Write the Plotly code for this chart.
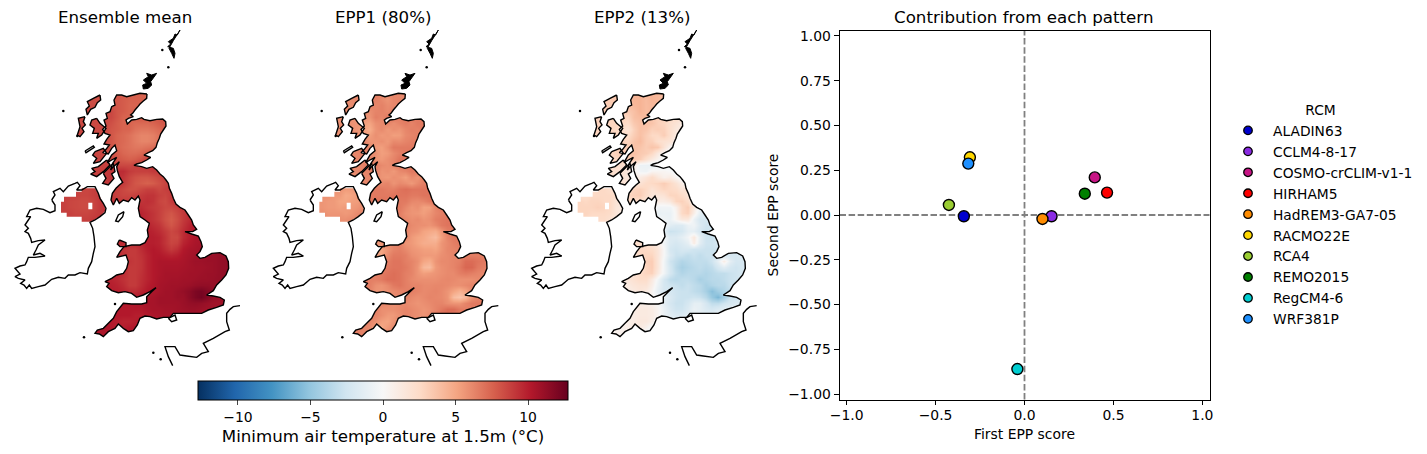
import plotly.graph_objects as go

_ = None
W, H = 1427, 454

# ---------------------------------------------------------------- scatter data
RCM = ["ALADIN63", "CCLM4-8-17", "COSMO-crCLIM-v1-1", "HIRHAM5", "HadREM3-GA7-05",
       "RACMO22E", "RCA4", "REMO2015", "RegCM4-6", "WRF381P"]
FIRST_EPP = [-0.341, 0.152, 0.395, 0.464, 0.101, -0.307, -0.425, 0.339, -0.040, -0.316]
SECOND_EPP = [-0.007, -0.007, 0.210, 0.125, -0.022, 0.322, 0.056, 0.119, -0.860, 0.287]
RCM_COLORS = ["#0000cd", "#8a2be2", "#c71585", "#ff0000", "#ff8c00",
              "#ffd700", "#9acd32", "#008000", "#00ced1", "#1e90ff"]
MAP_TITLES = ["Ensemble mean", "EPP1 (80%)", "EPP2 (13%)"]
CBAR_TICKS = [-10, -5, 0, 5, 10]

# ---------------------------------------------------------------- gridded fields (deg C)
MEAN = [
 [_]*9+[8,7.8,7.8,7.8,7.5,7.5],
 [_]*9+[8,7.8,7.6,7.6,7.6,7.5],
 [_]*8+[8,8,7.8,7.5,7.5,7.5],
 [_]*8+[8.5,8,7.8,7.5,7.8],
 [_]*7+[8.5,8.5,8,7.5,7.5,7.8,8,8,8,8,8.5,8.5],
 [_]*7+[8.5,8.2,7.8,7.5,7.5,7.3,7.3,7.3,7.5,7.8,8,8.5],
 [_]*7+[8.5,8,7.8,7.5,7.5,7,6.8,6.8,7,7.3,7.8,8.5],
 [_]*7+[8.5,8,7.5,7.3,7,6.6,6.3,6.3,6.5,7,7.8],
 [_]*7+[8.5,8,7.5,7.3,7,6.6,6.3,6.3,6.5,7,7.8],
 [_]*7+[8.5,8,7.5,7.2,7,6.8,6.8,7,7.2,7.8],
 [_]*7+[8.5,8.2,7.8,7.4,7.2,7.2,7.4,7.8,8.2],
 [_]*8+[8.5,8,7.8,7.6,7.8,8.2,8.8],
 [_]*8+[8.8,8.5,8.5,8.5,8.8,8.8,9,9.2],
 [_]*9+[9.5,9.5,9,8.8,8.8,8.8,9,9,9],
 [_]*9+[9.5,9.2,8.6,8.2,8,8,8.2,8.5,8.8,9],
 [_]*9+[9.5,9,8.5,8,7.8,7.6,7.8,8.2,8.6,9],
 [8.8,8.8,8.8,8.6,8.6,8.8,9,9,9,8.8,8.5,8.2,8.2,8.5,8.8,8.8,8.5,8.8,9,9.2],
 [8.8,8.8,8.8,8.6,8.6,8.8,9,9.2,9,8.8,8.6,8.6,8.8,9,9.2,9.2,8.8,8.6,9,9.5],
 [8.8,8.6,8.5,8.4,8.4,8.6,9,9.2,9.2,9,9,9,9,9.2,9.4,9.2,8.6,8.4,9,9.5],
 [8.8,8.6,8.5,8.4,8.4,8.6,9,9.2,_,_,_,_,_,9.5,9.2,9,8.8,8.5,8.5,8.8,9.2],
 [8.8,8.8,8.6,8.6,8.6,8.8,9,9.2,_,_,_,_,_,9.8,9.5,9.2,8.8,8.3,8,8.5,9,9.5,9.8],
 [8.8,8.8,8.8,8.8,8.8,9,9.2,9.2,_,_,_,_,_,9.8,9.5,9.2,8.8,8.2,7.8,8.3,9,9.5,10],
 [_]*14+[9.8,9.5,9.2,8.5,8,8.5,9.2,9.8,10.2],
 [_]*14+[10,9.8,9.5,9,8.5,8.8,9.5,10,10.3,10.5],
 [_]*14+[10,10,9.8,9.2,8.5,8.5,9.5,10,10.4,10.6],
 [_]*9+[9.5,9.5,9.5,9.5,9.8,10,10,9.8,9.2,8.6,8.8,9.8,10.2,10.5,10.6,10.8],
 [_]*9+[9.5,9.2,9,9,9.5,10,10.2,10,9.5,9,9.4,10.2,10.5,10.6,10.8,10.8],
 [_]*9+[9.6,9.2,9,9,9.3,9.8,10.2,10.2,10,9.8,10,10.4,10.6,10.8,10.8,11,11,11.2,11.2],
 [_]*9+[9.8,9.4,9.2,9,9.2,9.8,10.2,10.4,10.4,10.4,10.4,10.5,10.7,10.9,10.9,11,11,11.2,11.3,11.4],
 [_]*9+[9.8,9.5,9,9,9.2,9.8,10.2,10.4,10.5,10.5,10.5,10.6,10.7,10.8,10.8,10.9,11,11.2,11.3,11.4],
 [_]*8+[9.8,9.8,9.5,9,9,9.3,9.8,10.2,10.4,10.6,10.6,10.6,10.7,10.8,10.8,10.9,11,11,11.2,11.3,11.3],
 [_]*7+[10,9.8,9.6,9.3,9,9,9.4,9.8,10.2,10.5,10.6,10.7,10.7,10.8,10.8,10.9,11,11,11.1,11.2,11.2],
 [_]*7+[10,10,9.8,9.5,9,9,9.5,10,10.3,10.6,10.7,10.8,10.8,10.9,11,11.2,11.3,11.3,11.2,11.2],
 [_]*7+[10,10,10,9.8,9.5,9.5,9.8,10.2,10.4,10.6,10.8,10.8,11,11.2,11.5,12,12.2,11.8,11.4],
 [_]*10+[10.2,10.2,10.2,10.4,10.5,10.6,10.8,10.8,10.8,11,11,11.5,12,12.3,11.8,11.2,11,11],
 [_]*9+[10.2,10.2,10.2,10.4,10.4,10.6,10.6,10.8,10.8,10.8,10.8,11,11.2,11.3,11.2,11,10.8,10.8,10.8],
 [_]*9+[10.2,10.2,10.2,10.2,10.2,10.5,10.6,10.6,10.7,10.7,10.8,10.9,11,11,10.9,10.8,10.8,10.8],
 [_]*8+[10.2,10.2,10.2,10.2,10,10,10.2,10.4,10.5,10.6,10.7,10.7,10.8,10.8,10.7,10.7,10.6],
 [_]*7+[10.4,10.2,10,9.8,9.8,10,10.2,10.4,10.4,10.5,10.5,10.5],
 [_]*6+[10.4,10.4,10.2,10,10,10.2,10.3,10.4],
 [_]*5+[10.4,10.4,10.4,10.2,10.2,10.3,10.4],
 [_]*5+[10.4,10.4,10.4,10.4],
]

EPP1 = [
 [_]*9+[6.5,6.3,6.1,6.3,6.1,6.1],
 [_]*9+[6.5,6.1,5.7,6.2,6.3,6],
 [_]*8+[6.5,6.2,6.4,6,6.2,6.3],
 [_]*8+[5.9,6.3,6.4,6.1,6.5],
 [_]*7+[5.9,5.7,6.5,6.2,6.7,6.9,6.5,6.7,6.8,6.7,6.7,6.7],
 [_]*7+[5.3,5.1,5.9,6.1,6.3,5.9,6.3,6.6,6.3,6.7,6.7,6.7],
 [_]*7+[5.2,4.7,5.7,6.1,5.5,5.9,5.7,6.2,6.5,6.4,6.7,6.7],
 [_]*7+[5.7,5.3,5.9,5.5,5.7,5.3,5.4,6.1,6.3,6.5,6.7],
 [_]*7+[6.2,5.7,5.7,5.9,5.5,6.1,6,6.3,6.5,6.5,6.7],
 [_]*7+[6.5,6.1,5.5,5.3,5.9,6.7,6.7,6.7,6.7,6.7],
 [_]*7+[6.5,6.2,5.9,5.3,5.5,6.1,6.5,6.7,6.9],
 [_]*8+[6.3,5.7,5.5,5.9,6.3,6.9,6.9],
 [_]*8+[6.7,6.5,6.1,5.9,6.3,6.7,6.7,6.7],
 [_]*9+[6.5,5.7,5.9,5.5,6.1,6.3,6.7,6.7,6.7],
 [_]*9+[6.1,5.7,5.5,5.9,5.7,5.3,6.1,5.7,6.5,6.7],
 [_]*9+[6.3,6.1,6.3,5.7,6.1,5.9,5.5,6.1,6.5,6.7],
 [5.9,5.9,5.9,5.7,5.4,5.5,5.7,5.9,6.7,6.7,6.7,6.5,6.5,6.9,7.1,6.9,6.9,6.9,6.9,6.9],
 [5.9,5.9,5.5,5.5,4.9,5.1,5.5,5.9,6.7,6.7,6.7,6.7,6.9,6.9,6.9,6.7,6.7,6.9,6.9,6.9],
 [5.7,5.5,5.5,5.1,5,5.3,5.4,5.9,6.7,6.9,6.9,6.9,6.7,6.7,6.7,6.2,6.1,6.3,6.7,6.9],
 [5.7,5.5,5.5,5.3,5.5,5.5,5.7,6.1,_,_,_,_,_,6.7,6.2,5.7,5.9,5.2,5.3,6.3,6.7],
 [5.9,5.7,5.7,5.7,5.5,5.7,6.1,6.3,_,_,_,_,_,6.5,5.9,5.7,5.6,5.3,5.7,6.2,6.5,6.7,6.7],
 [6.1,5.9,5.9,5.9,5.9,6.1,6.3,6.3,_,_,_,_,_,6.5,6.2,5.9,6.1,5.7,5.9,6.5,6.7,6.9,6.9],
 [_]*14+[6.5,6.1,5.9,5.9,5.7,6.1,6.7,6.9,6.9],
 [_]*14+[6.3,5.9,5.7,5.1,4.9,4.7,5.7,6.5,6.7,6.9],
 [_]*14+[6.2,5.5,5.1,4.9,4.4,4,5.3,6.3,6.7,6.9],
 [_]*9+[5.5,5.7,5.9,6.3,6.5,5.7,5.5,5.1,4.7,4.7,4.7,5.7,6.1,6.5,6.7,6.9],
 [_]*9+[4.9,5.1,5.7,6.3,6.5,6.1,5.7,5.5,5.3,5.3,5.1,5.7,6.2,6.3,6.5,6.9],
 [_]*9+[5.1,5.1,6.1,6.7,6.7,6.5,5.9,5.7,5.5,5.5,5.5,5.9,6.1,6.3,6.3,6.5,6.5,6.5,6.5],
 [_]*9+[5.9,6.1,6.5,6.9,6.9,6.5,6.3,5.9,5,4.7,5.7,6.1,6.1,6.3,6.5,7.2,7.2,6.9,6.7],
 [_]*9+[6.3,6.5,6.7,6.9,6.9,6.7,6.3,5.7,4.2,4,5.5,5.9,6.1,6.3,6.7,7.4,7.4,6.7,6.5,6.5],
 [_]*8+[6.5,6.5,6.7,6.9,7.1,6.9,6.5,6.3,5.7,5.3,5.5,5.7,5.9,6.1,6.1,6.5,6.7,6.5,6.3,6.2,6.2],
 [_]*7+[6.7,6.5,6.5,6.7,7.1,7.1,6.9,6.5,6.1,5.9,5.9,5.9,5.9,6.1,6.2,6.1,5.9,5.9,5.9,6.1,6.2],
 [_]*7+[6.7,6.5,5.9,5.7,6.1,6.7,6.9,6.5,6.3,6.3,6.1,6.1,6.2,6.2,6.1,5.9,5.9,6.1,6.3,6.3],
 [_]*7+[6.7,6.3,5.7,5.7,5.9,6.1,6.3,6.5,6.5,6.3,6.1,6.2,6.3,6.1,5.7,5.1,4.5,5.1,6.1],
 [_]*10+[5.9,5.9,6.1,6.3,6.5,6.1,5.9,6.1,6.3,6.2,6.1,5.7,4,3.6,4.2,5.7,6.3,6.5],
 [_]*9+[6.3,6.3,6.1,5.9,6.1,6.1,5.9,5.7,5.9,6.1,6.3,6.3,5.9,5.7,5.7,6.3,6.7,6.7],
 [_]*9+[6.5,5.9,5.9,5.9,6.1,6.3,6.1,5.9,5.7,5.9,6.3,6.7,7.2,7.2,6.7,6.5,6.5,6.7],
 [_]*8+[6.5,6.3,5.9,5.5,5.5,5.9,6.3,6.1,5.9,5.7,6.1,6.7,7.3,7.2,6.7,6.5,6.5],
 [_]*7+[6.5,6.3,5.9,5.3,5.1,5.7,6.3,6.3,6.1,6.1,6.3,6.3],
 [_]*6+[6.5,6.3,6.1,5.3,4.9,5.5,6.1,6.3],
 [_]*5+[6.5,6.5,6.3,5.9,5.7,5.9,6.3],
 [_]*5+[6.5,6.5,6.5,6.3],
]

EPP2 = [
 [_]*9+[4.2,4.4,4.2,4.4,4.2,4],
 [_]*9+[4.4,4.4,4,4.4,4.2,4],
 [_]*8+[3.8,4.2,4.4,4,4.2,4.2],
 [_]*8+[3.4,3.8,4.4,4,4.2],
 [_]*7+[3,2.8,3.8,4,4.2,3.4,3,3,2.6,2.4,1.8,1.4],
 [_]*7+[2.6,2.4,3.4,3.8,3.8,3.6,3,2.8,2.2,1.8,1.2,1],
 [_]*7+[2.2,1.8,3,3.8,3.6,3,3.2,3,2.2,1.4,1,0.8],
 [_]*7+[2.6,2.4,3.2,3.8,3.2,2.6,2.6,3.2,2.2,1.2,0.4],
 [_]*7+[3,2.8,3.6,4,3.2,3,2.2,2,1.8,0.8,0],
 [_]*7+[3.2,3.2,3.8,3.6,3.2,3.6,3.4,1.8,0.4,-0.5],
 [_]*7+[3.4,3.4,3.8,3.4,3.2,2.6,1.2,0.2,-0.8],
 [_]*8+[3.4,3.4,3.2,2.2,1.2,0.4,-0.6],
 [_]*8+[1.4,1,-0.8,-0.8,-1,-1,-0.8,-0.6],
 [_]*9+[0.6,-0.4,-0.6,0.3,0.3,0.3,0,-0.6,-1],
 [_]*9+[1,1,1.6,2.4,1.4,0.6,1,0.3,-0.6,-0.8],
 [_]*9+[1.6,1.8,2.4,2.6,2.8,3.2,2.6,1.8,0.8,-0.6],
 [2.2,2.2,2.2,2.6,2.6,2.2,1.8,1.6,2.4,2.8,3,2.6,1.8,2.4,2.8,2.6,2.4,1.6,2.4,0],
 [2.2,2.2,2.6,2.6,2.6,2.6,2.2,1.6,2.8,3,3.2,2.4,1.6,1.6,1.8,2.8,2.8,2.4,1.6,0],
 [2.8,2.6,2.8,2.8,2.6,2.6,1.8,1.6,2.4,2.4,2.4,1.6,0.8,1,1,1.4,2.8,3,2.4,0],
 [2.8,2.8,2.8,3,2.8,2.6,1.6,1.2,_,_,_,_,_,-0.5,-0.5,-0.5,0.6,2.6,3.2,1.4,-0.8],
 [2.8,2.8,2.6,2.6,2.6,2.4,1.6,1.2,_,_,_,_,_,-1,-0.8,-0.9,0.3,2.6,3,0.8,-1.2,-1.8,-1.2],
 [2.6,2.6,2.4,2.4,2.4,2,1.6,1.2,_,_,_,_,_,-0.4,-0.5,-0.8,0.3,1.4,1.4,-0.8,-2.2,-2.2,-1.8],
 [_]*14+[-0.4,-1.4,-1.8,-1.8,-0.8,-0.5,-1.8,-2.6,-2.6],
 [_]*14+[-1.2,-2.8,-2.6,-2.2,-1.2,-1.2,-2.2,-2.8,-2.6,-1.8],
 [_]*14+[0,-1.8,-1.8,-1.2,-0.4,1.4,-1.2,-2.6,-2.8,-2.2],
 [_]*9+[2.4,2.2,2,1.8,1,-0.4,-1.8,-2.2,-1.8,-1.2,1,-1.4,-2.6,-2.6,-2.2,-1.4],
 [_]*9+[2.2,2.6,2.6,2.4,1.6,0,-2.2,-2.6,-2.2,-2.2,-2.6,-2.6,-2.8,-2.8,-2.6,-2.2],
 [_]*9+[1.8,2.6,2.8,2.8,1.6,0,-1.8,-2.8,-2.8,-3.2,-2.8,-3.2,-2.8,-2.8,-2.6,-2.2,-2.2,-2.2,-1.8],
 [_]*9+[1.6,2.4,3,3.2,1.6,-0.4,-2.6,-3.2,-3.8,-3.5,-3.2,-3.2,-3.2,-2.6,-1.2,1,-1.2,-2.2,-2.2,-1.8],
 [_]*9+[1.6,2,2.8,3.2,1.6,-0.4,-2.2,-3.5,-4.2,-3.8,-3.5,-3.2,-3.5,-3.2,-2.2,-1.4,-2.2,-2.6,-2.2,-1.8],
 [_]*8+[1.2,1.8,2.4,2.8,3,1.2,-0.4,-2.2,-3.2,-3.8,-3.5,-3.5,-3.5,-3.8,-3.5,-3.2,-3.2,-2.8,-2.6,-2.2,-1.8],
 [_]*7+[1,1.6,2,2.4,2.4,1.2,-0.4,-2.2,-3.2,-3.5,-3.2,-3.2,-3.5,-4.2,-3.8,-3.5,-3.5,-3.2,-2.8,-2.6,-2.2],
 [_]*7+[1,1.2,1.6,1.8,1.8,0.8,-0.8,-2.2,-2.6,-2.8,-3.2,-2.8,-3.2,-3.5,-4.2,-3.8,-3.5,-3.5,-2.8,-2.6],
 [_]*7+[0.8,1,1.2,1.6,1.2,0.3,-1.2,-2.2,-2.2,-2.6,-2.8,-2.8,-3.2,-3.5,-4.2,-5.4,-4.4,-3.8,-3.2],
 [_]*10+[0.8,0.6,0.3,-0.5,-1.2,-1.8,-2.6,-2.8,-2.8,-2.6,-2.8,-3.5,-4.8,-5.8,-4.4,-2.8,-2.6,-2.2],
 [_]*9+[1,1,0.8,0.6,0,-1.2,-2.2,-2.8,-2.8,-2.2,-1.2,-1.2,-2.2,-3.2,-3.2,-2.6,-2.2,-1.8],
 [_]*9+[1,1.2,1.2,1,0.3,-0.8,-1.8,-2.6,-2.6,-1.8,-0.8,-1.2,-1.8,-2.2,-1.8,-1.4,-1.2,-1.2],
 [_]*8+[0.8,1,1.2,1.2,1,0.3,-0.8,-1.4,-1.8,-1.8,-1.4,-1.2,-1.2,-1.4,-1.2,-0.8,-0.8],
 [_]*7+[0.6,0.8,1,1.4,1.4,0.8,-0.4,-1.2,-1.2,-1.2,-0.8,-0.5],
 [_]*6+[0.6,0.6,0.8,1.2,1.2,0.6,-0.4,-0.8],
 [_]*5+[0.6,0.6,0.6,0.8,0.8,0.4,-0.4],
 [_]*5+[0.6,0.6,0.6,0.6],
]

# ---------------------------------------------------------------- outlines (map units)
GB_X = [441,440,430,420,412,405,398,392,400,385,378,382,395,410,425,432,450,470,488,497,498,490,482,478,472,468,458,445,432,452,440,425,410,402,425,440,458,470,480,490,498,505,508,515,520,528,540,555,565,575,580,590,578,555,575,595,603,607,600,590,600,615,635,660,678,685,686,678,665,650,640,620,640,660,673,670,650,625,605,570,540,520,510,490,470,450,435,420,412,400,385,370,355,345,325,310,298,285,292,310,325,340,350,370,395,425,440,440,455,468,450,430,410,395,375,355,335,320,327,315,335,350,370,380,385,378,350,360,372,395,420,435,445,442,448,435,420,415,420,415,405,395,385,370,358,350,340,333,337,348,358,368,358,352,350,358,340,332,338,350,335,322,335,350,345,335,325,308,318,328,312,320,330,315,308,318,312,322,318,330,335,345,342,350,365,380,400,420,441]
GB_Y = [222,235,243,252,262,270,280,285,290,295,300,312,300,298,293,298,302,298,297,305,318,330,342,355,368,382,392,398,405,412,420,428,432,436,440,445,440,450,462,470,480,490,505,520,535,552,562,570,585,600,615,628,635,635,642,648,665,680,695,705,715,712,700,698,708,725,745,765,780,795,812,825,828,832,840,855,862,870,880,880,880,880,892,892,897,890,888,895,915,932,935,925,912,925,935,950,942,940,930,925,910,895,875,850,852,852,848,830,815,803,815,825,832,820,815,818,812,800,790,785,775,765,760,745,725,705,712,695,680,675,675,668,650,630,610,600,590,565,540,528,540,533,545,540,550,535,555,540,520,505,495,487,470,452,440,425,440,450,430,412,420,428,405,392,375,385,402,398,388,375,372,358,345,340,328,318,300,295,280,275,260,255,240,225,225,230,225,220,222]
NI_X = [192,228,228,245,245,285,300,318,300,272,245,245,200,200,183,183,192]
NI_Y = [530,530,515,515,505,505,530,570,590,605,605,590,590,578,578,545,545]
NI_LOUGH_X = [265,277,277,265]
NI_LOUGH_Y = [548,548,568,568]
IRE_X = [155,165,160,180,190,205,225,232,240,230,245,262,285,295,300,310,318,315,300,285,270,278,282,285,280,275,265,262,240,225,205,195,175,155,135,115,95,88,80,72,62,75,55,45,60,45,60,75,80,85,105,135,120,100,108,115,135,115,95,92,85,75,85,75,85,92,80,90,110,130,150,165,165,155]
IRE_Y = [540,525,515,505,515,498,490,487,497,510,510,500,500,520,535,550,565,578,590,600,607,625,650,680,700,725,745,762,758,765,765,775,772,778,795,800,805,795,805,795,790,780,775,770,762,745,738,735,725,712,712,708,700,705,690,675,660,662,667,655,640,635,625,615,600,590,590,570,565,568,578,572,555,540]
LEWIS_X = [300,302,292,285,272,262,258,268,262,280,300]
LEWIS_Y = [225,240,248,262,268,285,268,258,245,235,225]
UIST_X = [255,250,256,246,252,240,232,240,235,255]
UIST_Y = [290,305,315,325,335,350,345,320,295,290]
SKYE_X = [290,300,318,305,290,295,278,283,270,275,290]
SKYE_Y = [295,310,325,345,355,340,340,325,315,300,295]
MULL_X = [285,310,320,300,280,290,278,285]
MULL_Y = [395,385,400,425,430,415,405,395]
ISLAY_X = [320,330,310,290,272,285,275,295,320]
ISLAY_Y = [420,435,455,470,462,455,445,440,420]
KINTYRE_X = [310,340,345,335,342,325,308,318,310]
KINTYRE_Y = [460,430,455,462,475,495,490,475,460]
TIREE_X = [255,280,283,258,255]
TIREE_Y = [393,378,382,398,393]
MAN_X = [372,368,355,347,355,372]
MAN_Y = [575,590,605,603,585,575]
ANGLESEY_X = [358,378,378,360,352,358]
ANGLESEY_Y = [660,668,680,680,672,660]
WIGHT_X = [505,525,530,515,505]
WIGHT_Y = [895,885,900,905,895]
FRANCE_X = [720,700,690,680,680,688,675,640,610,625,605,590,560,540,525,495,505,518]
FRANCE_Y = [857,860,868,880,905,930,935,955,970,995,1000,1012,1008,1005,980,980,1010,1037]
SHETLAND_X = [540,532,525,520,505,512,503,520,525,522,515,507,520,540]
SHETLAND_Y = [30,45,42,55,65,72,80,85,100,115,100,85,62,30]
ORKNEY_X = [430,445,440,455,470,458,452,455,445,430,428,440,430]
ORKNEY_Y = [180,170,160,165,160,175,185,195,205,207,195,190,180]
ISLET_X = [190,487,505,252,345,460,482,232]
ISLET_Y = [273,90,142,952,852,998,1018,348]

GRID_X0, GRID_Y0, GRID_STEP = 189, 219, 18
MAP_EXTENT_X, MAP_EXTENT_Y = 750, 1050


def rect_grid(rows):
    n = max(len(r) for r in rows)
    return [list(r) + [None] * (n - len(r)) for r in rows]


def oriented(xs, ys, ccw):
    area = sum(xs[i] * ys[(i + 1) % len(xs)] - xs[(i + 1) % len(xs)] * ys[i] for i in range(len(xs)))
    if (area > 0) != ccw:
        return xs[::-1], ys[::-1]
    return xs, ys


def join(rings):
    X, Y = [], []
    for xs, ys in rings:
        X += list(xs) + [None]
        Y += list(ys) + [None]
    return X, Y


land = [(GB_X, GB_Y), (NI_X, NI_Y), (LEWIS_X, LEWIS_Y), (UIST_X, UIST_Y), (SKYE_X, SKYE_Y),
        (MULL_X, MULL_Y), (ISLAY_X, ISLAY_Y), (KINTYRE_X, KINTYRE_Y), (ANGLESEY_X, ANGLESEY_Y)]
frame_x, frame_y = oriented([0, MAP_EXTENT_X, MAP_EXTENT_X, 0], [0, 0, MAP_EXTENT_Y, MAP_EXTENT_Y], True)
lough = oriented(NI_LOUGH_X, NI_LOUGH_Y, True)
mask_x, mask_y = join([(frame_x, frame_y)] + [oriented(x, y, False) for x, y in land] + [lough])
coast_x, coast_y = join([(GB_X, GB_Y), (IRE_X, IRE_Y), (LEWIS_X, LEWIS_Y), (UIST_X, UIST_Y), (SKYE_X, SKYE_Y),
                         (MULL_X, MULL_Y), (ISLAY_X, ISLAY_Y), (KINTYRE_X, KINTYRE_Y), (TIREE_X, TIREE_Y),
                         (MAN_X, MAN_Y), (ANGLESEY_X, ANGLESEY_Y), (WIGHT_X, WIGHT_Y), (FRANCE_X, FRANCE_Y)])
solid_x, solid_y = join([(SHETLAND_X, SHETLAND_Y), (ORKNEY_X, ORKNEY_Y)])

fig = go.Figure()
FIELDS = [MEAN, EPP1, EPP2]
MAP_LEFT = [0, 258.33, 516.67]
FONT = "DejaVu Sans"
TICK = 13.9

for i, field in enumerate(FIELDS):
    ax = "" if i == 0 else str(i + 1)
    xa, ya = "x" + ax, "y" + ax
    fig.add_trace(go.Heatmap(z=rect_grid(field), x0=GRID_X0, dx=GRID_STEP, y0=GRID_Y0, dy=GRID_STEP,
                             coloraxis="coloraxis", zsmooth="best", connectgaps=True,
                             xaxis=xa, yaxis=ya, hoverinfo="skip"))
    fig.add_trace(go.Scatter(x=mask_x, y=mask_y, mode="lines", fill="toself", fillcolor="white",
                             line=dict(width=0), xaxis=xa, yaxis=ya, showlegend=False, hoverinfo="skip"))
    fig.add_trace(go.Scatter(x=coast_x, y=coast_y, mode="lines", line=dict(color="black", width=1.4, simplify=False),
                             xaxis=xa, yaxis=ya, showlegend=False, hoverinfo="skip"))
    fig.add_trace(go.Scatter(x=solid_x, y=solid_y, mode="lines", fill="toself", fillcolor="black",
                             line=dict(color="black", width=1), xaxis=xa, yaxis=ya, showlegend=False, hoverinfo="skip"))
    fig.add_trace(go.Scatter(x=ISLET_X, y=ISLET_Y, mode="markers", marker=dict(color="black", size=2.5),
                             xaxis=xa, yaxis=ya, showlegend=False, hoverinfo="skip"))
    L = MAP_LEFT[i]
    hidden = dict(visible=False, fixedrange=True)
    fig.update_layout({
        "xaxis" + ax: dict(hidden, domain=[L / W, (L + 250) / W], range=[0, MAP_EXTENT_X]),
        "yaxis" + ax: dict(hidden, domain=[1 - 370 / H, 1 - 20 / H], range=[MAP_EXTENT_Y, 0]),
    })

for n, fx, fy, c in zip(RCM, FIRST_EPP, SECOND_EPP, RCM_COLORS):
    fig.add_trace(go.Scatter(x=[fx], y=[fy], mode="markers", name=n, xaxis="x4", yaxis="y4", showlegend=False,
                             marker=dict(color=c, size=11, line=dict(color="black", width=1.4))))
    fig.add_trace(go.Scatter(x=[None], y=[None], mode="markers", name=n, xaxis="x4", yaxis="y4", legendgroup=n,
                             marker=dict(color=c, size=8.5, line=dict(color="black", width=1.3))))

for kw in (dict(x0=0, x1=1, xref="x4 domain", y0=0, y1=0, yref="y4"),
           dict(x0=0, x1=0, xref="x4", y0=0, y1=1, yref="y4 domain")):
    fig.add_shape(type="line", layer="below", line=dict(color="#808080", width=1.8, dash="6.5px,2.6px"), **kw)

sc_axis = dict(showgrid=False, zeroline=False, showline=True, mirror=True, linecolor="black", linewidth=1,
               ticks="outside", ticklen=4.9, tickwidth=1, tickcolor="black", automargin=False,
               tickfont=dict(size=TICK, family=FONT, color="black"))
fig.update_layout(
    xaxis4=dict(sc_axis, anchor="y4", domain=[839.5 / W, 1209.5 / W], range=[-1.04, 1.04], tickvals=[-1, -0.5, 0, 0.5, 1],
                ticktext=["\u22121.0", "\u22120.5", "0.0", "0.5", "1.0"], ticklabelstandoff=-2,
                title=dict(text="First EPP score", font=dict(size=TICK, family=FONT, color="black"), standoff=7)),
    yaxis4=dict(sc_axis, anchor="x4", domain=[1 - 399.5 / H, 1 - 30.5 / H], range=[-1.03, 1.03],
                tickvals=[-1, -0.75, -0.5, -0.25, 0, 0.25, 0.5, 0.75, 1],
                ticktext=["\u22121.00", "\u22120.75", "\u22120.50", "\u22120.25", "0.00", "0.25", "0.50", "0.75", "1.00"],
                title=dict(text="Second EPP score", font=dict(size=TICK, family=FONT, color="black"), standoff=6)),
    coloraxis=dict(cmin=-12.75, cmax=12.75,
                   colorscale=[[0, "#053061"], [0.1, "#2166ac"], [0.2, "#4393c3"], [0.3, "#92c5de"], [0.4, "#d1e5f0"],
                               [0.5, "#f7f7f7"], [0.6, "#fddbc7"], [0.7, "#f4a582"], [0.8, "#d6604d"], [0.9, "#b2182b"],
                               [1, "#67001f"]],
                   colorbar=dict(orientation="h", lenmode="pixels", len=370, thicknessmode="pixels", thickness=19,
                                 x=383 / W, xanchor="center", y=1 - 381 / H, yanchor="top", ypad=0, xpad=0,
                                 outlinewidth=1, outlinecolor="black", ticks="outside", ticklen=4.9, tickwidth=1,
                                 tickvals=CBAR_TICKS, tickfont=dict(size=TICK, family=FONT, color="black"),
                                 title=dict(text="Minimum air temperature at 1.5m (\u00b0C)", side="bottom",
                                            font=dict(size=16.67, family=FONT, color="black")))),
    legend=dict(x=1223 / W, xanchor="left", y=1 - 97 / H, yanchor="top", bgcolor="rgba(0,0,0,0)", borderwidth=0,
                font=dict(size=13.8, family=FONT, color="black"), tracegroupgap=0, itemsizing="trace", itemwidth=40,
                title=dict(text="RCM", side="top center", font=dict(size=13.8, family=FONT, color="black"))),
    width=W, height=H, margin=dict(l=0, r=0, t=0, b=0, autoexpand=False), paper_bgcolor="white", plot_bgcolor="white",
    font=dict(family=FONT, color="black"), showlegend=True,
)
for txt, cx in zip(MAP_TITLES + ["Contribution from each pattern"], [125, 383, 642, 1023.5]):
    fig.add_annotation(text=txt, x=cx / W, y=1 - 18 / H, xref="paper", yref="paper", showarrow=False,
                       xanchor="center", yanchor="middle", font=dict(size=16.67, family=FONT, color="black"))

fig.write_html("out.html", config={"displayModeBar": False},
               post_script="document.body.style.margin='0';window.dispatchEvent(new Event('resize'));")
